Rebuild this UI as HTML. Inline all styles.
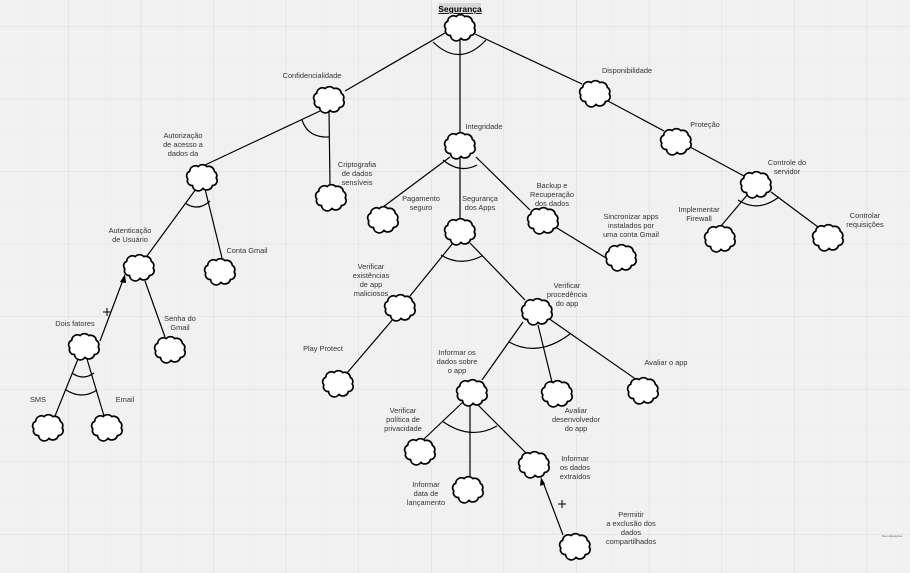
<!DOCTYPE html>
<html><head><meta charset="utf-8">
<style>
html,body{margin:0;padding:0;background:#f1f1f1;}
svg{display:block;}
text{font-family:"Liberation Sans",sans-serif;font-size:7.4px;fill:#333;text-anchor:middle;}
</style></head>
<body>
<svg width="910" height="573" viewBox="0 0 910 573" xmlns="http://www.w3.org/2000/svg">
<defs>
<symbol id="c" viewBox="-18 -14 36 28" overflow="visible">
<path d="M-10,9 a5,5 0 0 1 -5,-7 a5,5 0 0 1 2,-8 a6,6 0 0 1 9,-5 a6,6 0 0 1 9,0 a6,6 0 0 1 8,5 a5,5 0 0 1 2,7 a5,5 0 0 1 -4,8 a6,6 0 0 1 -10,3 a6,6 0 0 1 -11,-3 z" fill="#fff" stroke="#000" stroke-width="1.8" stroke-linejoin="round"/>
</symbol>
<pattern id="g" x="-4.6" y="26" width="72.6" height="72.6" patternUnits="userSpaceOnUse">
<path d="M0,0 H72.6 M0,0 V72.6" stroke="#dcdcdc" stroke-width="1" fill="none"/>
</pattern>
<pattern id="g2" x="-4.6" y="26" width="36.3" height="36.3" patternUnits="userSpaceOnUse">
<path d="M0,0 H36.3 M0,0 V36.3" stroke="#e8e8e8" stroke-width="0.6" fill="none"/>
</pattern>
</defs>
<rect width="910" height="573" fill="#f1f1f1"/>
<rect width="910" height="573" fill="url(#g2)"/>
<rect width="910" height="573" fill="url(#g)"/>

<g stroke="#000" stroke-width="1.2" fill="none">
<!-- top -->
<line x1="445" y1="33" x2="345" y2="91"/>
<line x1="460" y1="38" x2="460" y2="134"/>
<line x1="475" y1="34" x2="582" y2="84"/>
<path d="M433,42 Q460,68 486,40"/>
<!-- conf -->
<line x1="320" y1="111" x2="205" y2="165"/>
<line x1="329" y1="111" x2="330" y2="185"/>
<path d="M302,120 Q308,138 329,137"/>
<!-- integ -->
<line x1="450" y1="157" x2="383" y2="207"/>
<line x1="460" y1="157" x2="460" y2="219"/>
<line x1="476" y1="157" x2="530" y2="210"/>
<path d="M443,160 Q460,174 477,165"/>
<!-- disp -->
<line x1="608" y1="101" x2="664" y2="131"/>
<line x1="690" y1="147" x2="744" y2="176"/>
<line x1="748" y1="194" x2="721" y2="226"/>
<line x1="771" y1="192" x2="818" y2="227"/>
<path d="M738,200 Q758,213 779,197"/>
<line x1="557" y1="228" x2="606" y2="258"/>
<!-- aut -->
<line x1="196" y1="189" x2="147" y2="256"/>
<line x1="205" y1="189" x2="222" y2="258"/>
<path d="M185,203 Q198,212 210,201"/>
<line x1="100" y1="341" x2="123" y2="280"/>
<line x1="145" y1="281" x2="165" y2="337"/>
<line x1="78" y1="359" x2="55" y2="416"/>
<line x1="87" y1="359" x2="104" y2="416"/>
<path d="M72,373 Q83,381 94,373"/>
<path d="M66,390 Q82,400 97,390"/>
<!-- seg apps -->
<line x1="453" y1="243" x2="410" y2="296"/>
<line x1="470" y1="243" x2="525" y2="300"/>
<path d="M441,255 Q460,267 482,256"/>
<line x1="394" y1="318" x2="347" y2="373"/>
<line x1="523" y1="322" x2="482" y2="380"/>
<line x1="538" y1="325" x2="552" y2="382"/>
<line x1="548" y1="318" x2="637" y2="380"/>
<path d="M509,342 Q538,358 570,334"/>
<line x1="463" y1="402" x2="424" y2="439"/>
<line x1="470" y1="402" x2="470" y2="478"/>
<line x1="475" y1="402" x2="526" y2="453"/>
<path d="M442,421 Q470,441 497,426"/>
<line x1="563" y1="535" x2="543" y2="482"/>
</g>
<!-- arrowheads -->
<path d="M125,274 L120,282 L126,283 Z" fill="#000"/>
<path d="M541,477 L540,486 L545,484 Z" fill="#000"/>
<g stroke="#000" stroke-width="1">
<path d="M103,312 H111 M107,308 V316"/>
<path d="M558,504 H566 M562,500 V508"/>
</g>

<!-- clouds -->
<g>
<use href="#c" x="443" y="13" width="34" height="28"/>
<use href="#c" x="312" y="85" width="34" height="28"/>
<use href="#c" x="578" y="79" width="34" height="28"/>
<use href="#c" x="443" y="131" width="34" height="28"/>
<use href="#c" x="185" y="163" width="34" height="28"/>
<use href="#c" x="314" y="183" width="34" height="28"/>
<use href="#c" x="366" y="205" width="34" height="28"/>
<use href="#c" x="443" y="217" width="34" height="28"/>
<use href="#c" x="526" y="206" width="34" height="28"/>
<use href="#c" x="604" y="243" width="34" height="28"/>
<use href="#c" x="659" y="127" width="34" height="28"/>
<use href="#c" x="739" y="170" width="34" height="28"/>
<use href="#c" x="703" y="224" width="34" height="28"/>
<use href="#c" x="811" y="223" width="34" height="28"/>
<use href="#c" x="122" y="253" width="34" height="28"/>
<use href="#c" x="203" y="257" width="34" height="28"/>
<use href="#c" x="67" y="332" width="34" height="28"/>
<use href="#c" x="153" y="335" width="34" height="28"/>
<use href="#c" x="31" y="413" width="34" height="28"/>
<use href="#c" x="90" y="413" width="34" height="28"/>
<use href="#c" x="383" y="293" width="34" height="28"/>
<use href="#c" x="520" y="297" width="34" height="28"/>
<use href="#c" x="321" y="369" width="34" height="28"/>
<use href="#c" x="455" y="378" width="34" height="28"/>
<use href="#c" x="540" y="379" width="34" height="28"/>
<use href="#c" x="626" y="376" width="34" height="28"/>
<use href="#c" x="403" y="437" width="34" height="28"/>
<use href="#c" x="451" y="475" width="34" height="28"/>
<use href="#c" x="517" y="450" width="34" height="28"/>
<use href="#c" x="558" y="532" width="34" height="28"/>
</g>

<!-- labels -->
<rect x="439" y="3" width="42" height="11" fill="#d8d8d8"/>
<text x="460" y="12" style="font-weight:bold;font-size:8.5px;fill:#000;text-decoration:underline">Segurança</text>
<text x="312" y="78">Confidencialidade</text>
<text x="627" y="73">Disponibilidade</text>
<text x="484" y="129">Integridade</text>
<text x="183" y="138">Autorização</text>
<text x="183" y="147">de acesso a</text>
<text x="183" y="156">dados da</text>
<text x="357" y="167">Criptografia</text>
<text x="357" y="176">de dados</text>
<text x="357" y="185">sensíveis</text>
<text x="421" y="201">Pagamento</text>
<text x="421" y="210">seguro</text>
<text x="480" y="201">Segurança</text>
<text x="480" y="210">dos Apps</text>
<text x="552" y="188">Backup e</text>
<text x="552" y="197">Recuperação</text>
<text x="552" y="206">dos dados</text>
<text x="631" y="219">Sincronizar apps</text>
<text x="631" y="228">instalados por</text>
<text x="631" y="237">uma conta Gmail</text>
<text x="705" y="127">Proteção</text>
<text x="787" y="165">Controle do</text>
<text x="787" y="174">servidor</text>
<text x="699" y="212">Implementar</text>
<text x="699" y="221">Firewall</text>
<text x="865" y="218">Controlar</text>
<text x="865" y="227">requisições</text>
<text x="130" y="233">Autenticação</text>
<text x="130" y="242">de Usuário</text>
<text x="247" y="253">Conta Gmail</text>
<text x="75" y="326">Dois fatores</text>
<text x="180" y="321">Senha do</text>
<text x="180" y="330">Gmail</text>
<text x="38" y="402">SMS</text>
<text x="125" y="402">Email</text>
<text x="371" y="269">Verificar</text>
<text x="371" y="278">existências</text>
<text x="371" y="287">de app</text>
<text x="371" y="296">maliciosos</text>
<text x="567" y="288">Verificar</text>
<text x="567" y="297">procedência</text>
<text x="567" y="306">do app</text>
<text x="323" y="351">Play Protect</text>
<text x="457" y="355">Informar os</text>
<text x="457" y="364">dados sobre</text>
<text x="457" y="373">o app</text>
<text x="666" y="365">Avaliar o app</text>
<text x="576" y="413">Avaliar</text>
<text x="576" y="422">desenvolvedor</text>
<text x="576" y="431">do app</text>
<text x="403" y="413">Verificar</text>
<text x="403" y="422">política de</text>
<text x="403" y="431">privacidade</text>
<text x="426" y="487">Informar</text>
<text x="426" y="496">data de</text>
<text x="426" y="505">lançamento</text>
<text x="575" y="461">Informar</text>
<text x="575" y="470">os dados</text>
<text x="575" y="479">extraídos</text>
<text x="631" y="517">Permitir</text>
<text x="631" y="526">a exclusão dos</text>
<text x="631" y="535">dados</text>
<text x="631" y="544">compartilhados</text>
<text x="892" y="537" style="font-size:3px;fill:#666">Sem alterações</text>
</svg>
</body></html>
